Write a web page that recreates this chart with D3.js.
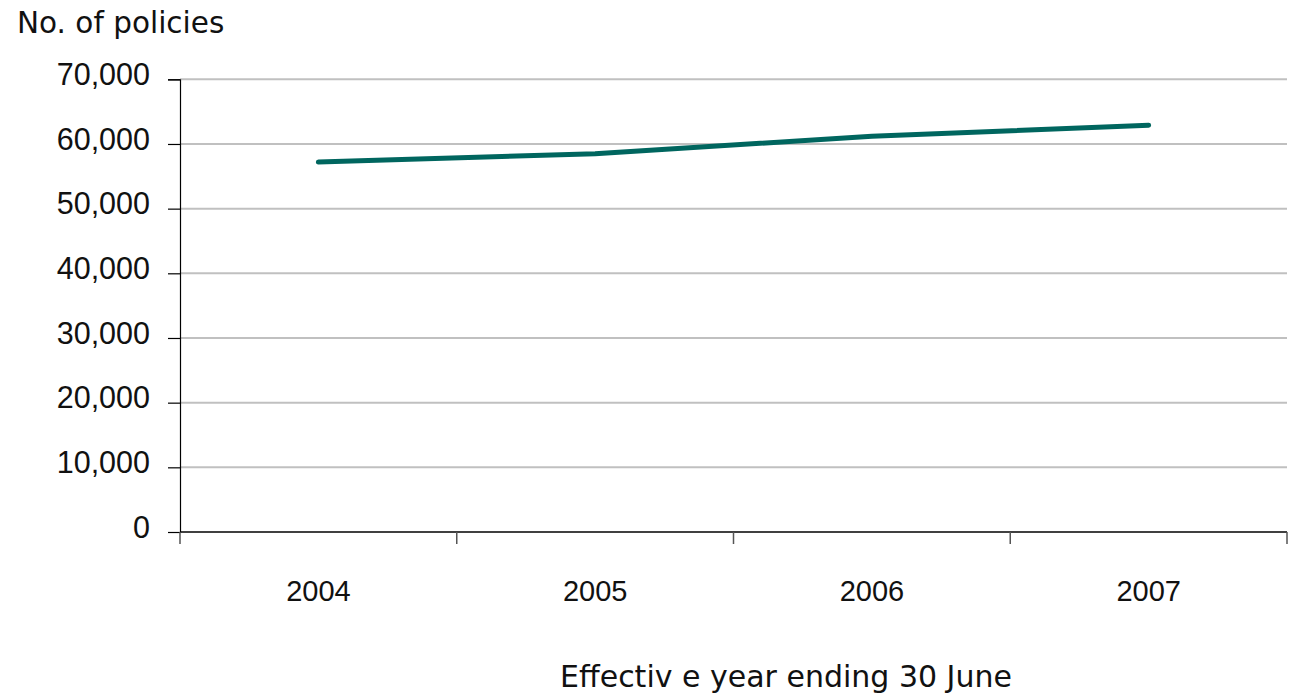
<!DOCTYPE html>
<html><head><meta charset="utf-8">
<script src="https://cdn.jsdelivr.net/npm/d3@7"></script>
<style>body{margin:0;background:#fff}svg{display:block}text{font-family:"DejaVu Sans",sans-serif;fill:#111}.num{font-family:"Liberation Sans",Arial,sans-serif}</style>
</head><body><svg id="c" width="1289" height="695"></svg>
<script>
const categories = ["2004","2005","2006","2007"];
const values = [57200, 58500, 61200, 62900];
const yTicks = [0,10000,20000,30000,40000,50000,60000,70000];
const yTitle = "No. of policies";
const xTitle = "Effectiv e year ending 30 June";

const svg = d3.select("#c");
const L = 180, R = 1287, T = 79.3, B = 532;
const x = d3.scaleBand().domain(categories).range([L, R]);
const y = d3.scaleLinear().domain([0, 70000]).range([B, T]);

// gridlines
svg.append("g").selectAll("line").data(yTicks.filter(d=>d>0)).join("line")
  .attr("x1", L).attr("x2", R).attr("y1", d=>y(d)).attr("y2", d=>y(d))
  .attr("stroke", "#c0c0c0").attr("stroke-width", 2);

// y axis
const fmt = d3.format(",");
const ya = svg.append("g").attr("transform", `translate(${L},0)`)
  .call(d3.axisLeft(y).tickValues(yTicks).tickFormat(fmt).tickSize(12).tickPadding(18));
ya.select(".domain").attr("stroke", "#000").attr("stroke-width", 1.2);
ya.selectAll(".tick line").attr("stroke", "#000").attr("stroke-width", 1.2);
ya.selectAll("text").attr("class", "num").style("font-size", "30.5px").attr("fill", "#111").attr("dy", "0.17em");

// x axis
const xa = svg.append("g").attr("transform", `translate(0,${B})`)
  .call(d3.axisBottom(x).tickSize(0).tickPadding(0));
xa.select(".domain").remove();
svg.append("line").attr("x1", L).attr("x2", R).attr("y1", B).attr("y2", B).attr("stroke", "#000").attr("stroke-width", 1.5);
const bounds = categories.map(c => x(c)).concat([x(categories[categories.length-1]) + x.bandwidth()]);
svg.append("g").selectAll("line").data(bounds).join("line")
  .attr("x1", d=>d).attr("x2", d=>d).attr("y1", B).attr("y2", B+12)
  .attr("stroke", "#555").attr("stroke-width", 1.5);
xa.selectAll("text").attr("class", "num").style("font-size", "29px").attr("fill", "#111").attr("dy", "0").attr("y", 69);

// line
const line = d3.line().x((d,i)=>x(categories[i]) + x.bandwidth()/2).y(d=>y(d));
svg.append("path").datum(values).attr("d", line).attr("fill", "none")
  .attr("stroke", "#00665f").attr("stroke-width", 5).attr("stroke-linecap", "round").attr("stroke-linejoin", "round");

// titles
svg.append("text").attr("x", 17).attr("y", 33).style("font-size", "29.5px").text(yTitle);
svg.append("text").attr("x", 786).attr("y", 687).attr("text-anchor", "middle").style("font-size", "30px").text(xTitle);
</script></body></html>
